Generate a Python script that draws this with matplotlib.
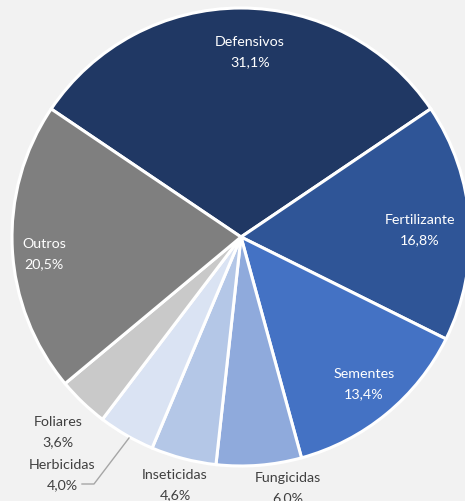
import matplotlib
matplotlib.use("Agg")
import matplotlib.pyplot as plt

# data
categories = ["Defensivos", "Fertilizante", "Sementes", "Fungicidas",
              "Inseticidas", "Herbicidas", "Foliares", "Outros"]
shares = [31.1, 16.8, 13.4, 6.0, 4.6, 4.0, 3.6, 20.5]
colors = ["#203864", "#2F5597", "#4472C4", "#8FAADC",
          "#B4C7E7", "#DAE3F3", "#C9C9C9", "#7F7F7F"]

W, H = 465, 501
cx, cy, R = 241, H - 237, 229

fig = plt.figure(figsize=(W / 100, H / 100), dpi=100, facecolor="#F2F2F2")
ax = fig.add_axes([0, 0, 1, 1])
ax.set_facecolor("#F2F2F2")

ax.pie(shares, colors=colors, startangle=146, counterclock=False,
       center=(cx, cy), radius=R,
       wedgeprops=dict(edgecolor="white", linewidth=2.2))
ax.set_xlim(0, W)
ax.set_ylim(0, H)
ax.set_aspect("equal")
ax.axis("off")

# label positions in pixels (x, y from top) and text colour
label_pos = [(250, 52, "white"), (420, 230, "white"), (364, 384, "white"),
             (288, 488, "#404040"), (175, 485, "#404040"), (62, 475, "#404040"),
             (58, 432, "#404040"), (44, 254, "white")]

for name, v, (x, y, c) in zip(categories, shares, label_pos):
    txt = f"{name}\n{v:.1f}%".replace(".", ",")
    ax.text(x, H - y, txt, ha="center", va="center", color=c,
            fontsize=10.3, family="Lato", linespacing=1.75)

# leader line for Herbicidas
ax.plot([82, 94, 129], [H - 484, H - 484, H - 438], color="#A6A6A6", lw=1)

fig.savefig("out.png", dpi=100, facecolor=fig.get_facecolor())
